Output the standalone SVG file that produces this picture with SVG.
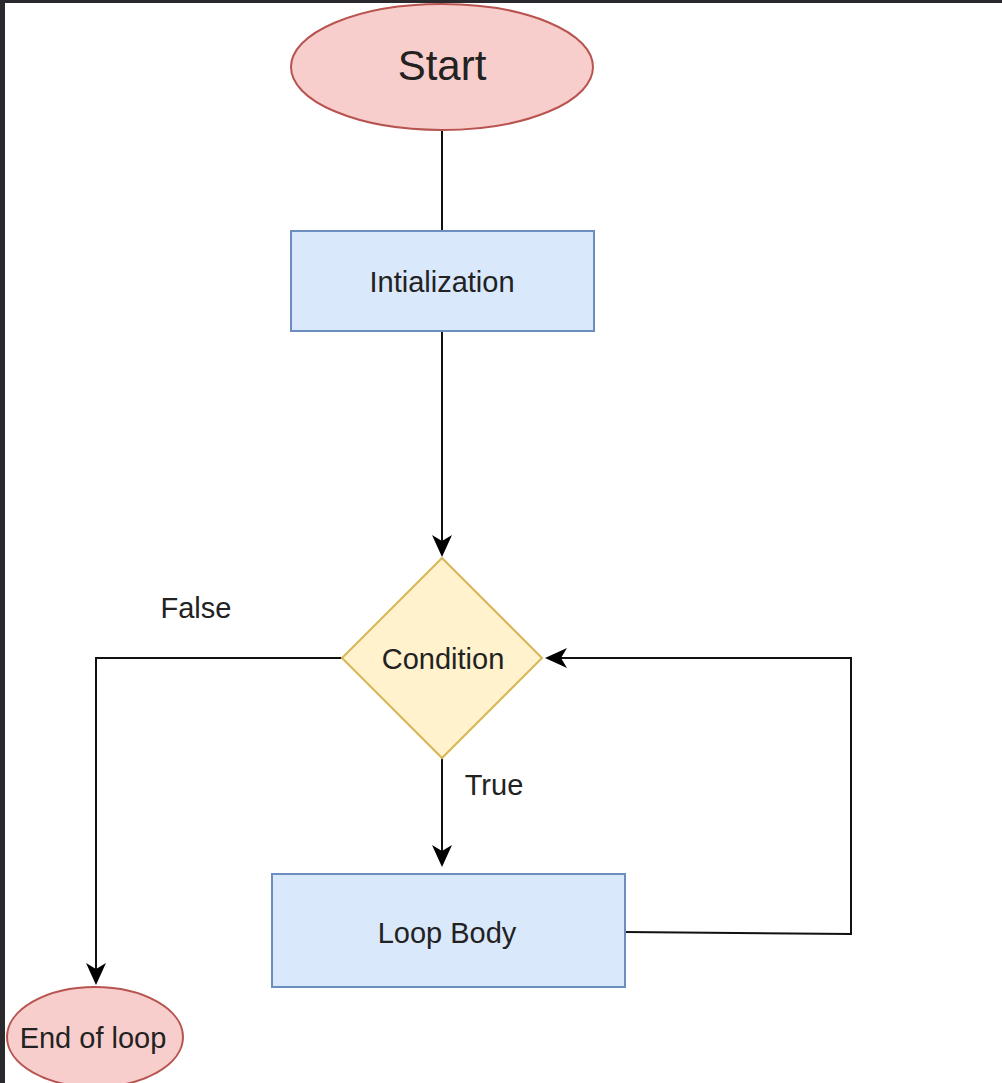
<svg xmlns="http://www.w3.org/2000/svg" width="1002" height="1083" viewBox="0 0 1002 1083">
  <style>
    .lbl { font-family: "Liberation Sans", Arial, sans-serif; font-size: 29px; fill: #222; text-anchor: middle; }
    .term { fill: #f8cecc; stroke: #b85450; stroke-width: 2; }
    .proc { fill: #dae8fc; stroke: #6c8ebf; stroke-width: 2; }
    .dec { fill: #fff2cc; stroke: #d6b656; stroke-width: 2; }
    .edge { fill: none; stroke: #111; stroke-width: 2; }
  </style>
  <defs>
    <marker id="arrow" viewBox="0 0 22 20" markerWidth="22" markerHeight="20" refX="6" refY="10" orient="auto" markerUnits="userSpaceOnUse">
      <path d="M0,0 L22,10 L0,20 L6,10 Z" fill="#000"/>
    </marker>
  </defs>

  <rect x="0" y="0" width="1002" height="1083" fill="#ffffff"/>

  <g id="connectors">
    <path class="edge" d="M442,130 L442,231"/>
    <path class="edge" d="M442,331 L442,541" marker-end="url(#arrow)"/>
    <path class="edge" d="M442,758 L442,851" marker-end="url(#arrow)"/>
    <path class="edge" d="M625,932 L851,934 L851,658 L561,658" marker-end="url(#arrow)"/>
    <path class="edge" d="M342,658 L96,658 L96,969" marker-end="url(#arrow)"/>
  </g>

  <g id="start">
    <ellipse class="term" cx="442" cy="67" rx="151" ry="63"/>
    <text class="lbl" x="442" y="80" style="font-size:42px">Start</text>
  </g>

  <g id="init">
    <rect class="proc" x="291" y="231" width="303" height="100"/>
    <text class="lbl" x="442" y="292">Intialization</text>
  </g>

  <g id="condition">
    <polygon class="dec" points="442,558 542,658 442,758 342,658"/>
    <text class="lbl" x="443" y="669">Condition</text>
  </g>

  <g id="loop-body">
    <rect class="proc" x="272" y="874" width="353" height="113"/>
    <text class="lbl" x="447" y="943">Loop Body</text>
  </g>

  <g id="end">
    <ellipse class="term" cx="95" cy="1037" rx="88" ry="50"/>
    <text class="lbl" x="93" y="1048">End of loop</text>
  </g>

  <g id="edge-labels">
    <text class="lbl" x="196" y="618">False</text>
    <text class="lbl" x="494" y="795">True</text>
  </g>

  <!-- dark window frame along the top and left edges -->
  <rect x="0" y="0" width="1002" height="3" fill="#2a292e"/>
  <rect x="0" y="0" width="5" height="1083" fill="#2a292e"/>
</svg>
